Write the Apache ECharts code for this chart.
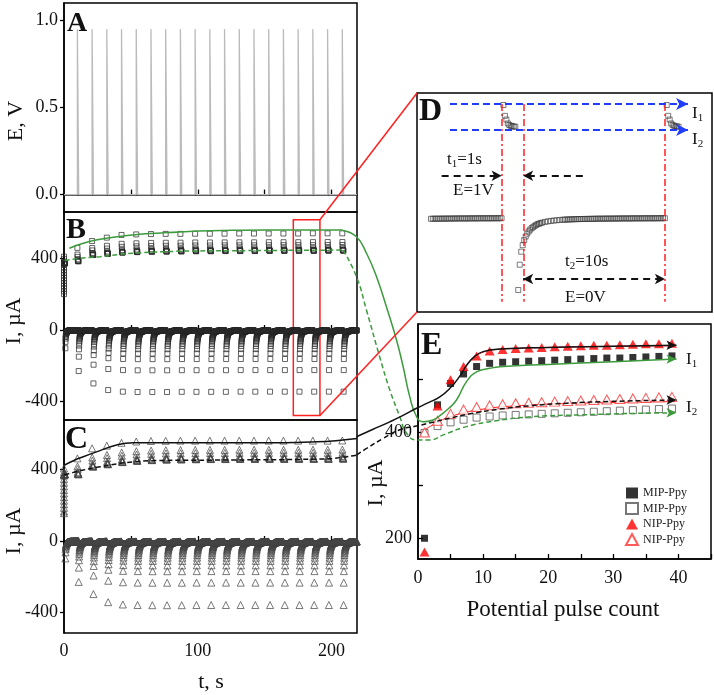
<!DOCTYPE html>
<html><head><meta charset="utf-8">
<script src="https://cdn.jsdelivr.net/npm/echarts@6/dist/echarts.min.js"></script>
<style>html,body{margin:0;padding:0;background:#fff}#c{width:714px;height:695px}</style>
</head><body><div id="c"></div>
<script>
// ---------- DATA ----------
// Panel A: potential pulses (s) and pulse level (V)
const pulseTimes = [10,21,32,43,54,65,76,87,98,109,120,131,142,153,164,175,186,197,208];
const pulseLevel = 0.95;
const pulseWidth = 1;
const timeEnd = 219;

// Panels B/C: start time of each sampled pulse group (s)
const groupTimes = [0,10,21,32,43,54,65,76,87,98,109,120,131,142,153,164,175,186,197,208];
// MIP (panel B) per-group levels, µA
const bI1 = [409,458,496,515,530,533,535,536,536,537,537,537,538,538,538,538,538,539,539,539];
const bI2 = [372,383,418,424,431,434,436,437,438,439,439,440,440,440,441,441,441,441,442,442];
const bNeg = [102,229,298,335,344,346,346,346,345,345,345,345,344,344,344,344,344,344,344,344];
const bFirstColumn = [409,395,380,365,350,335,320,305,290,275,260,245,230,215,200];
// NIP (panel C)
const cI1 = [405,461,517,532,548,555,558,559,560,560,560,560,560,560,560,560,560,560,560,561];
const cI2 = [372,372,415,428,440,447,451,454,455,456,457,457,458,458,458,458,458,458,458,459];
const cNeg = [97,228,296,341,354,357,358,358,358,357,357,357,357,357,357,357,357,357,357,357];
const cFirstColumn = [405,385,365,345,325,305,285,265,245,225,205,185,165,155];

// sample profile inside one pulse (relative)
const posDt  = [0,0.1,0.2,0.3,0.4,0.5,0.6,0.7,0.8];
const posRel = [1,0.5,0.33,0.15,0.08,0.04,0.02,0.01,0];
const negDt  = [0,0.1,0.2,0.3,0.4,0.5,0.6,0.7,0.8,0.9,1.0,1.1,1.2,1.3,1.4,1.5,1.6,1.8,2.0,2.2,2.4,2.6,2.8,3.0,
  3.125,3.25,3.375,3.5,3.625,3.75,3.875,4.0,4.125,4.25,4.375,4.5,4.625,4.75,4.875,5.0,5.125,5.25,5.375,5.5,5.625,5.75,5.875,6.0,
  6.125,6.25,6.375,6.5,6.625,6.75,6.875,7.0,7.125,7.25,7.375,7.5,7.625,7.75,7.875,8.0,8.125,8.25,8.375,8.5,8.625,8.75,8.875,9.0,
  9.125,9.25,9.375,9.5,9.625,9.75,9.875];
const negRel = [1,0.65,0.47,0.38,0.31,0.26,0.22,0.19,0.165,0.145,0.13,0.115,0.1,0.09,0.082,0.075,0.068,0.058,0.05,0.044,0.039,0.035,0.031,0.028,
  0.0265,0.025,0.024,0.023,0.022,0.021,0.02,0.019,0.0185,0.018,0.0175,0.017,0.0165,0.016,0.0155,0.015,0.0145,0.014,0.0135,0.013,0.013,0.013,0.0125,0.012,
  0.012,0.012,0.0115,0.011,0.011,0.011,0.0105,0.01,0.01,0.01,0.01,0.01,0.0095,0.009,0.009,0.009,0.009,0.009,0.0085,0.008,0.008,0.008,0.008,0.008,
  0.008,0.008,0.0075,0.007,0.007,0.007,0.007];

// fitted envelopes in B and C  [t, µA]
const bFitI1 = [[4,456],[15,485],[27,506],[40,520],[52,530],[65,538],[77,543],[101,552],[126,556],[151,558],[180,558],[201,558],[208.4,558]];
const bFitI2 = [[0.5,387],[10,398],[27,409],[40,420],[52,428],[77,437],[101,441],[126,442],[160,444],[190,445],[208.4,446]];
const cFitI1 = [[0.5,424],[7,448],[14.4,470],[26.9,504],[39.3,536],[51.7,548],[77,548],[151,548],[189,554],[205,561],[219,572]];
const cFitI2 = [[0.5,368],[7,383],[14.4,396],[26.9,414],[39.3,430],[52,441],[64,448],[126,452],[189,457],[205,464],[219,480]];

// Panel D: zoomed pulse (schematic)
const dGroupTimes = [-11,0,11];
const dI1 = 535, dI2 = 432, dNeg = 343;
const dWindow = [-4.9, 11.9];

// Panel E: pulse count and currents
const pulseCount = [1,3,5,7,9,11,13,15,17,19,21,23,25,27,29,31,33,35,37,39];
const mipI1 = [200,451,491,509,523,529,531,532,533,534,535,536,537,538,539,539,540,541,542,543];
const mipI2 = [398,411,418,423,427,429,431,432,433,434,435,436,437,438,439,440,441,442,443,444];
const nipI1 = [174,449,498,523,543,552,555,557,558,559,560,561,562,563,563,564,565,566,566,567];
const nipI2 = [399,421,434,442,447,450,452,454,455,456,457,458,459,460,461,462,463,464,465,466];
const nipFitI1 = [[8.5,540],[10,550],[12,555],[15,557],[20,559],[30,561],[39.5,562]];
const nipFitI2 = [[1,404],[3,418],[5,429],[9,441],[15,449],[25,454],[39.5,457]];
// curves linking panels B/C to E (in E's pulse-count / µA coordinates)
const linkGreenI1 = [[-11.5,779],[-9.45,767],[-7.91,736],[-6.37,692],[-4.84,635],[-3.3,573],[-2.29,523],[-1.26,466],[-0.23,429],[0.78,419],[2.32,422.5],[3.5,432],[4.7,444],[5.91,460],[7.45,494.5],[8.99,513],[11.03,519.6],[12.57,522.6],[20,527],[30,532],[39.7,537]];
const linkGreenI2 = [[-11.5,742],[-9.45,692],[-7.91,629],[-5.88,541],[-4.33,479],[-2.8,429],[-1.77,398],[-0.23,385],[1.81,385],[4,395],[7.45,410],[12,421],[17.7,428.7],[25,432],[32,434.5],[39.7,436]];
const linkBlackI1 = [[-9.45,391],[-6.9,405],[-4.33,419],[-2.3,431],[-0.23,444.5],[1.6,455],[3.35,466],[4.9,482],[6.42,505],[7.45,525],[8.7,542],[10,551],[12.57,556],[20,559],[30,561],[39.7,563]];
const linkBlackI2 = [[-9.4,357],[-7.9,369],[-5.3,388],[-2.8,404],[-0.23,411],[2.5,419],[4.9,426],[8,434],[12.57,443],[17,449],[22.8,454],[30,457.5],[39.7,460]];

// ---------- BUILD ----------
const SERIF = "'Liberation Serif','Times New Roman',serif";
const GREEN = '#3c9b3c', RED = '#ff2020', BLUE = '#1f3cff';
const W = 714, H = 695;

function pulseSteps() {
  const d = [[0,0]];
  pulseTimes.forEach(p => { d.push([p,0],[p,pulseLevel],[p+pulseWidth,pulseLevel],[p+pulseWidth,0]); });
  d.push([timeEnd,0]);
  return d;
}
function groupPoints(times, i1, i2, neg, firstColumn) {
  const pts = [];
  times.forEach((t0,k) => {
    const I1 = Array.isArray(i1) ? i1[k] : i1, I2 = Array.isArray(i2) ? i2[k] : i2, A = Array.isArray(neg) ? neg[k] : neg;
    if (k === 0 && firstColumn) {
      firstColumn.forEach(v => pts.push([t0, v]));
      posDt.forEach(d => pts.push([t0 + d, I2]));
    } else {
      posDt.forEach((d,i) => pts.push([t0 + d, I2 + (I1 - I2) * posRel[i]]));
    }
    const n = Math.min(negDt.length, negRel.length);
    for (let i = 0; i < n; i++) pts.push([t0 + 1 + negDt[i], -A * negRel[i]]);
  });
  return pts;
}
const bPoints = groupPoints(groupTimes, bI1, bI2, bNeg, bFirstColumn);
const cPoints = groupPoints(groupTimes, cI1, cI2, cNeg, cFirstColumn);
const dPoints = groupPoints(dGroupTimes, dI1, dI2, dNeg, null).filter(p => p[0] >= dWindow[0] && p[0] <= dWindow[1]);

function withArrow(arr, color) {
  return arr.map((p,i) => i === arr.length - 1
    ? {value:p, symbol:'arrow', symbolSize:[7,10], symbolRotate:-90, itemStyle:{color}}
    : {value:p});
}

const tickLabel = {fontSize:18, fontFamily:SERIF, color:'#111'};
const axisLineBlack = {show:true, lineStyle:{color:'#000', width:1.5}};
function timeAxis(gi, labels) {
  return {type:'value', gridIndex:gi, min:0, max:timeEnd, axisLine:axisLineBlack,
    axisTick:{show:true, inside:true, length:5, customValues:[50,100,150,200], lineStyle:{color:'#000', width:1.3}},
    axisLabel:Object.assign({show:labels, customValues:[0,100,200], margin:9}, tickLabel),
    splitLine:{show:false}};
}
function valueAxis(gi, min, max, vals, fmt) {
  return {type:'value', gridIndex:gi, min, max, axisLine:axisLineBlack,
    axisTick:{show:true, inside:false, length:4, customValues:vals, lineStyle:{color:'#000', width:1.3}},
    axisLabel:Object.assign({customValues:vals, margin:6, formatter:fmt}, tickLabel),
    splitLine:{show:false}};
}
const gridBox = {show:true, borderColor:'#000', borderWidth:1.5, backgroundColor:'transparent'};

const sqStyle = {color:'rgba(0,0,0,0)', borderColor:'#2a2a2a', borderWidth:0.9};
const triStyle = {color:'rgba(0,0,0,0)', borderColor:'#444', borderWidth:0.9};

const dX = [-5.82, 14.05], dY = [-447.5, 592];
// panel E frame and scale; an invisible full-page overlay uses the same scale for the linking curves
const eBox = {left:418, top:324, width:293, height:235};
const eX = [0, 45], eY = [161, 603];
const kx = eBox.width / (eX[1] - eX[0]), ky = eBox.height / (eY[1] - eY[0]);
const ovX = [eX[0] - eBox.left / kx, eX[0] + (W - eBox.left) / kx];
const ovY = [eY[0] - (H - eBox.top - eBox.height) / ky, eY[1] + eBox.top / ky];

const option = {
  animation:false,
  backgroundColor:'#fff',
  grid:[
    Object.assign({left:64, top:3, width:293, height:209}, gridBox),
    Object.assign({left:64, top:212, width:293, height:208}, gridBox),
    Object.assign({left:64, top:420, width:293, height:213}, gridBox),
    Object.assign({left:417, top:93, width:295, height:219}, gridBox),
    Object.assign({}, eBox, gridBox),
    {left:0, top:0, width:W, height:H, show:false}
  ],
  xAxis:[
    timeAxis(0,false), timeAxis(1,false), timeAxis(2,true),
    {type:'value', gridIndex:3, min:dX[0], max:dX[1], show:false},
    {type:'value', gridIndex:4, min:eX[0], max:eX[1], axisLine:axisLineBlack,
     axisTick:{show:true, inside:true, length:5, customValues:[5,10,15,20,25,30,35,40,45], lineStyle:{color:'#000', width:1.3}},
     axisLabel:Object.assign({customValues:[0,10,20,30,40], margin:10}, tickLabel), splitLine:{show:false}},
    {type:'value', gridIndex:5, min:ovX[0], max:ovX[1], show:false}
  ],
  yAxis:[
    valueAxis(0,-0.1,1.1,[0,0.5,1.0], v => v.toFixed(1)),
    valueAxis(1,-502,658,[-400,0,400]),
    valueAxis(2,-513,675,[-400,0,400]),
    {type:'value', gridIndex:3, min:dY[0], max:dY[1], show:false},
    Object.assign(valueAxis(4,eY[0],eY[1],[200,400]), {axisTick:{show:true, inside:true, length:5, customValues:[200,300,400,500], lineStyle:{color:'#000', width:1.3}}}),
    {type:'value', gridIndex:5, min:ovY[0], max:ovY[1], show:false}
  ],
  legend:{
    orient:'vertical', left:620, top:482, itemGap:3, itemWidth:12, itemHeight:11,
    textStyle:{fontFamily:SERIF, fontSize:12, color:'#222'},
    data:['MIP-Ppy','MIP-Ppy\u200b','NIP-Ppy','NIP-Ppy\u200b']
  },
  series:[
    // A
    {type:'line', xAxisIndex:0, yAxisIndex:0, data:pulseSteps(), symbol:'none', lineStyle:{color:'#bbbbbb', width:1.3}},
    // B
    {type:'scatter', xAxisIndex:1, yAxisIndex:1, data:bPoints, symbol:'rect', symbolSize:5, itemStyle:sqStyle},
    {type:'line', xAxisIndex:1, yAxisIndex:1, data:bFitI1, smooth:true, symbol:'none', lineStyle:{color:GREEN, width:1.5}},
    {type:'line', xAxisIndex:1, yAxisIndex:1, data:bFitI2, smooth:true, symbol:'none', lineStyle:{color:GREEN, width:1.5, type:[5,3]}},
    {type:'line', xAxisIndex:1, yAxisIndex:1, data:[], markArea:{silent:true, itemStyle:{color:'rgba(0,0,0,0)', borderColor:RED, borderWidth:1.5},
      data:[[{coord:[171.4,615]},{coord:[191.3,-477]}]]}},
    // C
    {type:'scatter', xAxisIndex:2, yAxisIndex:2, data:cPoints, symbol:'triangle', symbolSize:7, itemStyle:triStyle},
    {type:'line', xAxisIndex:2, yAxisIndex:2, data:cFitI1, smooth:true, symbol:'none', lineStyle:{color:'#111', width:1.5}},
    {type:'line', xAxisIndex:2, yAxisIndex:2, data:cFitI2, smooth:true, symbol:'none', lineStyle:{color:'#111', width:1.5, type:[5,3]}},
    // D
    {type:'scatter', xAxisIndex:3, yAxisIndex:3, data:dPoints, symbol:'rect', symbolSize:5, itemStyle:{color:'rgba(0,0,0,0)', borderColor:'#333', borderWidth:0.8}},
    {type:'line', xAxisIndex:3, yAxisIndex:3, data:[], markLine:{silent:true, symbol:['none','none'], label:{show:false},
      lineStyle:{color:RED, width:1.5, type:[7,3,2,3]},
      data:[[{coord:[-0.12,539.6]},{coord:[-0.12,-398.7]}],[{coord:[1.38,539.6]},{coord:[1.38,-398.7]}],[{coord:[10.88,539.6]},{coord:[10.88,-398.7]}]]}},
    {type:'line', xAxisIndex:3, yAxisIndex:3, data:[], markLine:{silent:true, symbol:['none','arrow'], symbolSize:[9,12], label:{show:false},
      lineStyle:{color:BLUE, width:2, type:[7,4]},
      data:[[{coord:[-3.6,539.6]},{coord:[12.44,539.6]}],[{coord:[-3.6,416.2]},{coord:[12.44,416.2]}]]}},
    {type:'line', xAxisIndex:3, yAxisIndex:3, data:[], markLine:{silent:true, symbol:['none','arrow'], symbolSize:[8,10], label:{show:false},
      lineStyle:{color:'#111', width:1.8, type:[7,5]},
      data:[[{coord:[-4.16,199.3]},{coord:[-0.12,199.3]}],[{coord:[5.35,199.3]},{coord:[1.33,199.3]}]]}},
    {type:'line', xAxisIndex:3, yAxisIndex:3, data:[], markLine:{silent:true, symbol:['arrow','arrow'], symbolSize:[8,10], label:{show:false},
      lineStyle:{color:'#111', width:1.8, type:[7,5]},
      data:[[{coord:[1.33,-290.9]},{coord:[10.88,-290.9]}]]}},
    // E
    {type:'line', xAxisIndex:4, yAxisIndex:4, data:nipFitI1, smooth:true, symbol:'none', lineStyle:{color:RED, width:1}},
    {type:'line', xAxisIndex:4, yAxisIndex:4, data:nipFitI2, smooth:true, symbol:'none', lineStyle:{color:RED, width:1}},
    {name:'MIP-Ppy', type:'scatter', xAxisIndex:4, yAxisIndex:4, data:pulseCount.map((x,i)=>[x,mipI1[i]]), symbol:'rect', symbolSize:7, itemStyle:{color:'#000'}, z:3},
    {name:'MIP-Ppy\u200b', type:'scatter', xAxisIndex:4, yAxisIndex:4, data:pulseCount.map((x,i)=>[x,mipI2[i]]), symbol:'rect', symbolSize:7, itemStyle:{color:'#fff', borderColor:'#555', borderWidth:1}, z:3},
    {name:'NIP-Ppy', type:'scatter', xAxisIndex:4, yAxisIndex:4, data:pulseCount.map((x,i)=>[x,nipI1[i]]), symbol:'triangle', symbolSize:[10,9], itemStyle:{color:'#ff0000'}, z:4},
    {name:'NIP-Ppy\u200b', type:'scatter', xAxisIndex:4, yAxisIndex:4, data:pulseCount.map((x,i)=>[x,nipI2[i]]), symbol:'triangle', symbolSize:[10,9], itemStyle:{color:'#fff', borderColor:'#ff3030', borderWidth:1}, z:3},
    // linking curves (overlay with E's scale)
    {type:'line', xAxisIndex:5, yAxisIndex:5, data:withArrow(linkGreenI1, GREEN), smooth:true, symbol:'none', showSymbol:true, showAllSymbol:true, lineStyle:{color:GREEN, width:1.5}, z:5},
    {type:'line', xAxisIndex:5, yAxisIndex:5, data:withArrow(linkGreenI2, GREEN), smooth:true, symbol:'none', showSymbol:true, showAllSymbol:true, lineStyle:{color:GREEN, width:1.5, type:[5,3]}, z:5},
    {type:'line', xAxisIndex:5, yAxisIndex:5, data:withArrow(linkBlackI1, '#111'), smooth:true, symbol:'none', showSymbol:true, showAllSymbol:true, lineStyle:{color:'#111', width:1.5}, z:5},
    {type:'line', xAxisIndex:5, yAxisIndex:5, data:withArrow(linkBlackI2, '#111'), smooth:true, symbol:'none', showSymbol:true, showAllSymbol:true, lineStyle:{color:'#111', width:1.5, type:[5,3]}, z:5}
  ]
};

const chart = echarts.init(document.getElementById('c'));
chart.setOption(option);

// ---------- ANNOTATIONS ----------
function txt(text, x, y, size, opts) {
  opts = opts || {};
  return {type:'text', x, y, rotation:opts.rotation || 0, z:100, silent:true,
    style:Object.assign({text, fontSize:size, fontFamily:SERIF, fontWeight:opts.bold ? 'bold' : 'normal', fill:'#111',
      align:opts.align || 'left', verticalAlign:'middle'}, opts.rich ? {rich:opts.rich} : {})};
}
const sub = size => ({m:{fontSize:size, fontFamily:SERIF, fill:'#111'}, s:{fontSize:Math.round(size*0.62), fontFamily:SERIF, fill:'#111', padding:[Math.round(size*0.55),0,0,0]}});

const pTopRight = chart.convertToPixel({gridIndex:1}, [191.3, 615]);
const pBotRight = chart.convertToPixel({gridIndex:1}, [191.3, -477]);
const dTopLeft = chart.convertToPixel({gridIndex:3}, [dX[0], dY[1]]);
const dBotLeft = chart.convertToPixel({gridIndex:3}, [dX[0], dY[0]]);

chart.setOption({graphic:[
  {type:'line', silent:true, z:90, shape:{x1:pTopRight[0], y1:pTopRight[1], x2:dTopLeft[0], y2:dTopLeft[1]}, style:{stroke:RED, lineWidth:1.5}},
  {type:'line', silent:true, z:90, shape:{x1:pBotRight[0], y1:pBotRight[1], x2:dBotLeft[0], y2:dBotLeft[1]}, style:{stroke:RED, lineWidth:1.5}},
  txt('A', 67, 24, 28, {bold:true}),
  txt('B', 66, 230, 30, {bold:true}),
  txt('C', 65, 440, 32, {bold:true}),
  txt('D', 419, 112, 32, {bold:true}),
  txt('E', 421, 346, 32, {bold:true}),
  txt('E, V', 16, 121, 22, {rotation:Math.PI/2, align:'center'}),
  txt('I, \u00b5A', 14, 321, 22, {rotation:Math.PI/2, align:'center'}),
  txt('I, \u00b5A', 14, 531, 22, {rotation:Math.PI/2, align:'center'}),
  txt('I, \u00b5A', 376, 483, 22, {rotation:Math.PI/2, align:'center'}),
  txt('t, s', 211, 682, 22, {align:'center'}),
  txt('Potential pulse count', 563, 610, 23, {align:'center'}),
  txt('{m|I}{s|1}', 692, 114, 17, {rich:sub(17)}),
  txt('{m|I}{s|2}', 692, 140, 17, {rich:sub(17)}),
  txt('{m|t}{s|1}{m|=1s}', 447, 160, 17, {rich:sub(17)}),
  txt('E=1V', 453, 191, 17),
  txt('{m|t}{s|2}{m|=10s}', 565, 262, 17, {rich:sub(17)}),
  txt('E=0V', 565, 298, 17),
  txt('{m|I}{s|1}', 686, 360, 17, {rich:sub(17)}),
  txt('{m|I}{s|2}', 686, 408, 17, {rich:sub(17)})
]});
</script>
</body></html>
